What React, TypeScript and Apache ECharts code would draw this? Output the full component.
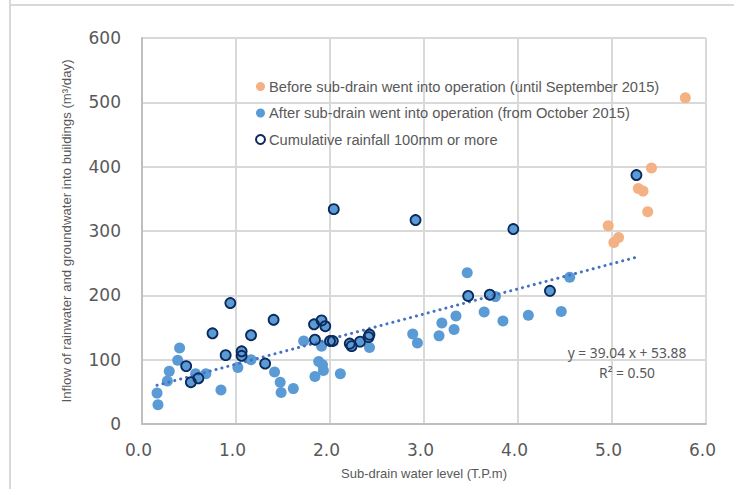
import React, { useEffect, useRef } from "react";
import * as echarts from "echarts";

// Data
const beforePoints: [number, number][] = [
  [4.96, 308], [5.02, 282], [5.07, 290], [5.28, 366], [5.33, 362], [5.38, 330], [5.42, 398], [5.78, 507],
];

const afterPlainPoints: [number, number][] = [
  [0.16, 48], [0.17, 30], [0.27, 67], [0.29, 82], [0.38, 99], [0.40, 118], [0.57, 78], [0.68, 78],
  [0.84, 53], [1.02, 88], [1.16, 100], [1.41, 81], [1.47, 65], [1.48, 49], [1.61, 55], [1.72, 129],
  [1.84, 74], [1.88, 97], [1.91, 121], [1.92, 92], [1.93, 83], [2.11, 78], [2.42, 119], [2.88, 140],
  [2.93, 126], [3.16, 137], [3.19, 157], [3.32, 147], [3.34, 168], [3.46, 235], [3.64, 174], [3.76, 198],
  [3.84, 160], [4.11, 169], [4.46, 175], [4.55, 228],
];

const rainfallPoints: [number, number][] = [
  [0.47, 90], [0.52, 65], [0.60, 71], [0.75, 141], [0.89, 107], [0.94, 188], [1.06, 106], [1.06, 113],
  [1.16, 138], [1.31, 94], [1.40, 162], [1.83, 155], [1.84, 131], [1.91, 161], [1.95, 152], [2.00, 129],
  [2.03, 129], [2.04, 334], [2.21, 125], [2.23, 121], [2.32, 128], [2.41, 135], [2.42, 139], [2.91, 317],
  [3.47, 199], [3.70, 201], [3.95, 303], [4.34, 207], [5.26, 387],
];

const seriesNames = [
  "Before sub-drain went into operation (until September 2015)",
  "After sub-drain went into operation (from October 2015)",
  "Cumulative rainfall 100mm or more",
];

const trendSlope = 39.04;
const trendIntercept = 53.88;
const trendRange = [0.16, 5.26];
const equationText = "y = 39.04 x + 53.88";
const r2Text = "R² = 0.50";

const xTicks = { min: 0, max: 6, interval: 1 };
const yTicks = { min: 0, max: 600, interval: 100 };

const SANS = "'Liberation Sans', Arial, sans-serif";

export default function App() {
  const ref = useRef<HTMLDivElement>(null);

  useEffect(() => {
    if (!ref.current) return;
    const chart = echarts.init(ref.current, undefined, { renderer: "svg" });
    const trendData = trendRange.map((x) => [x, trendSlope * x + trendIntercept]);
    chart.setOption({
      animation: false,
      backgroundColor: "#ffffff",
      grid: { left: 142, right: 28, top: 38, bottom: 65, containLabel: false },
      legend: {
        orient: "vertical",
        left: 250,
        top: 74,
        itemWidth: 9,
        itemHeight: 9,
        itemGap: 11.5,
        data: seriesNames,
        textStyle: { fontFamily: SANS, fontSize: 14.7, color: "#595959", padding: [0, 0, 0, -1] },
      },
      xAxis: {
        type: "value",
        min: xTicks.min,
        max: xTicks.max,
        interval: xTicks.interval,
        name: "Sub-drain water level (T.P.m)",
        nameLocation: "middle",
        nameGap: 43,
        nameTextStyle: { fontFamily: SANS, fontSize: 13, color: "#595959" },
        axisLine: { show: true, lineStyle: { color: "#bfbfbf", width: 2 } },
        axisTick: { show: false },
        splitLine: { show: true, lineStyle: { color: "#d9d9d9", width: 2 } },
        axisLabel: {
          formatter: (v: number) => v.toFixed(1),
          fontFamily: "'DejaVu Sans', sans-serif",
          fontSize: 17,
          color: "#595959",
          margin: 17,
          padding: [0, 7, 0, 0],
        },
      },
      yAxis: {
        type: "value",
        min: yTicks.min,
        max: yTicks.max,
        interval: yTicks.interval,
        name: "Inflow of rainwater and groundwater into buildings (m³/day)",
        nameLocation: "middle",
        nameGap: 69,
        nameRotate: 90,
        nameTextStyle: { fontFamily: SANS, fontSize: 13.2, color: "#595959" },
        axisLine: { show: true, lineStyle: { color: "#bfbfbf", width: 2 } },
        axisTick: { show: false },
        splitLine: { show: true, lineStyle: { color: "#d9d9d9", width: 2 } },
        axisLabel: {
          fontFamily: "'DejaVu Sans', sans-serif",
          fontSize: 17,
          color: "#595959",
          margin: 21,
        },
      },
      series: [
        {
          name: "trend",
          type: "line",
          data: trendData,
          symbol: "none",
          z: 3,
          lineStyle: { color: "#4472C4", width: 3, type: [0.1, 6], cap: "round" },
          silent: true,
        },
        {
          name: seriesNames[0],
          type: "scatter",
          data: beforePoints,
          symbolSize: 11,
          z: 2,
          itemStyle: { color: "#F4B183", opacity: 1 },
        },
        {
          name: seriesNames[1],
          type: "scatter",
          data: [...afterPlainPoints, ...rainfallPoints],
          symbolSize: 11,
          z: 2,
          itemStyle: { color: "#5B9BD5", opacity: 1 },
        },
        {
          name: seriesNames[2],
          type: "scatter",
          data: rainfallPoints,
          symbolSize: 10,
          z: 4,
          itemStyle: { color: "rgba(255,255,255,0)", borderColor: "#0B2A5B", borderWidth: 1.8, opacity: 1 },
        },
      ],
      graphic: [
        {
          type: "line",
          shape: { x1: 10, y1: 0, x2: 10, y2: 489 },
          style: { stroke: "#d9d9d9", lineWidth: 2 },
        },
        {
          type: "line",
          shape: { x1: 10, y1: 5, x2: 734, y2: 5 },
          style: { stroke: "#d9d9d9", lineWidth: 2 },
        },
        {
          type: "text",
          x: 627,
          y: 352,
          style: {
            text: equationText,
            fontFamily: "'Noto Sans', sans-serif",
            fontSize: 13.8,
            fill: "#595959",
            align: "center",
            verticalAlign: "middle",
          },
          z: 10,
        },
        {
          type: "text",
          x: 627,
          y: 372,
          style: {
            text: r2Text,
            fontFamily: "'Noto Sans', sans-serif",
            fontSize: 13.8,
            fill: "#595959",
            align: "center",
            verticalAlign: "middle",
          },
          z: 10,
        },
      ],
    });
    return () => chart.dispose();
  }, []);

  return (
    <div
      ref={ref}
      style={{ position: "fixed", left: 0, top: 0, width: 734, height: 489, background: "#fff" }}
    />
  );
}
